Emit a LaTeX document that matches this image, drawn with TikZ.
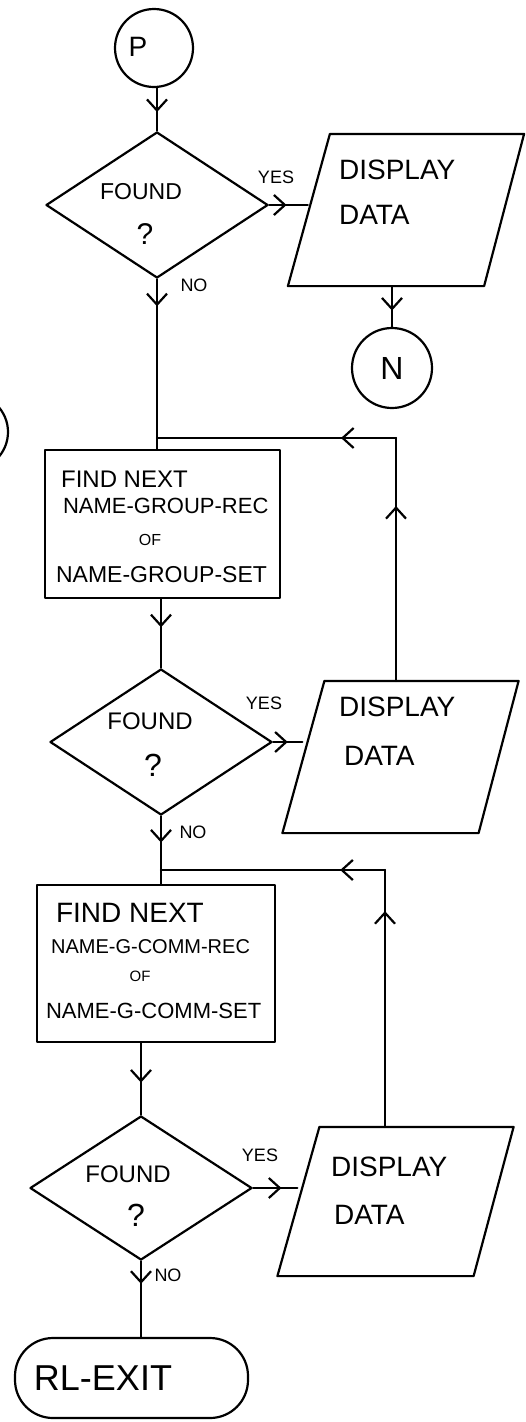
\documentclass[tikz,border=0pt]{standalone}
\usepackage{fontspec}
\setmainfont{Liberation Sans}
\usetikzlibrary{shapes.geometric,arrows.meta,decorations.markings,calc}

\tikzset{
  conn/.style={circle, draw, minimum size=#1, inner sep=0},
  decision/.style={diamond, draw, minimum width=222pt, minimum height=146pt, inner sep=0},
  % frame of a slanted input/output box; the outline is drawn from its corners
  io/.style={rectangle, minimum width=234pt, minimum height=#1, inner sep=0},
  process/.style={rectangle, draw, inner sep=0},
  term/.style={rectangle, draw, rounded corners=38pt, minimum width=233pt, minimum height=80pt, inner sep=0},
  midarrow/.style={postaction={decorate, decoration={markings,
      mark=at position #1 with {\arrow{Straight Barb[length=11pt,width=20pt]}}}}},
  fs/.style={font=\fontsize{#1}{#1}\selectfont, inner sep=0},
}

\begin{document}
\begin{tikzpicture}[x=1pt, y=-1pt, line width=2.2pt, line join=round, line cap=round]
\useasboundingbox (0,0) rectangle (526,1422);

% off-sheet connector, only its right edge shows
\begin{scope}
  \clip (0,0) rectangle (526,1422);
  \node[conn=76pt] (Q) at (-30,432) {};
\end{scope}

% ---------- first search ----------
\node[conn=78pt] (P) at (154,48) {};
\node[fs=28pt] (Pt) at (138,47) {P};

\node[decision] (D1) at (157,205) {};
\node[fs=23pt] (D1a) at (141,192) {FOUND};
\node[fs=30pt] (D1b) at (145,234) {?};

\node[io=150pt] (DD1) at (406,210) {};
\node[fs=28pt, anchor=west] (DD1a) at (338,170) {DISPLAY};
\node[fs=28pt, anchor=west] (DD1b) at (338,215) {DATA};

\node[conn=80pt, fs=32pt] (N) at (392,368) {N};

\node[fs=18pt] (Y1) at (276,177) {YES};
\node[fs=18pt] (N1) at (194,285) {NO};

% ---------- name-group loop ----------
\coordinate (J1) at (157,438);
\coordinate (K1) at (396,438);

\node[process, minimum width=235pt, minimum height=148pt] (B1) at (162.5,524) {};
\node[fs=24pt, anchor=west] (B1a) at (60,479) {FIND NEXT};
\node[fs=22pt, anchor=west] (B1b) at (62,506) {NAME-GROUP-REC};
\node[fs=16pt] (B1c) at (150,540) {OF};
\node[fs=23pt, anchor=west] (B1d) at (55,575) {NAME-GROUP-SET};

\node[decision] (D2) at (161,742) {};
\node[fs=24pt] (D2a) at (150,721) {FOUND};
\node[fs=32pt] (D2b) at (153,765) {?};

\node[io=150pt] (DD2) at (400.5,757) {};
\node[fs=28pt, anchor=west] (DD2a) at (338,707) {DISPLAY};
\node[fs=28pt, anchor=west] (DD2b) at (343,756) {DATA};

\node[fs=18pt] (Y2) at (264,703) {YES};
\node[fs=18pt] (N2) at (193,832) {NO};

% ---------- name-g-comm loop ----------
\coordinate (J2) at (161,870);
\coordinate (K2) at (385,870);

\node[process, minimum width=238pt, minimum height=157pt] (B2) at (156,963.5) {};
\node[fs=28pt, anchor=west] (B2a) at (55,913) {FIND NEXT};
\node[fs=20pt, anchor=west] (B2b) at (50,947) {NAME-G-COMM-REC};
\node[fs=15pt] (B2c) at (140,976) {OF};
\node[fs=22pt, anchor=west] (B2d) at (45,1011) {NAME-G-COMM-SET};

\node[decision, minimum height=144pt] (D3) at (141,1188) {};
\node[fs=24pt] (D3a) at (128,1174) {FOUND};
\node[fs=32pt] (D3b) at (136,1215) {?};

\node[io=147pt] (DD3) at (395.5,1201.5) {};
\node[fs=28pt, anchor=west] (DD3a) at (330,1167) {DISPLAY};
\node[fs=28pt, anchor=west] (DD3b) at (333,1215) {DATA};

\node[fs=18pt] (Y3) at (260,1155) {YES};
\node[fs=18pt] (N3) at (168,1275) {NO};

\node[term] (T) at (131.5,1378) {};
\node[fs=36pt] (Tt) at (103,1378) {RL-EXIT};

% slanted outlines of the display boxes
\foreach \b in {DD1,DD2,DD3}
  \draw ([xshift=42pt]\b.north west) -- (\b.north east)
        -- ([xshift=-40pt]\b.south east) -- (\b.south west) -- cycle;

% ---------- connectors ----------
\draw[midarrow=0.56] (D1.north |- P.south) -- (D1.north);
\draw[midarrow=0.45] (D1.east) -- ($(D1.east -| DD1.west)+(20,0)$);
\draw[midarrow=0.6] (N.north |- DD1.south) -- (N.north);
\draw[midarrow=0.16] (D1.south) -- (D1.south |- B1.north);
\draw[midarrow=0.72] (K1 |- DD2.north) -- (K1);
\draw[midarrow=0.23] (K1) -- (J1);

\draw[midarrow=0.41] (D2.north |- B1.south) -- (D2.north);
\draw[midarrow=0.5] (D2.east) -- ($(D2.east -| DD2.west)+(20,0)$);
\draw[midarrow=0.39] (D2.south) -- (D2.south |- B2.north);
\draw[midarrow=0.84] (K2 |- DD3.north) -- (K2);
\draw[midarrow=0.2] (K2) -- (J2);

\draw[midarrow=0.55] (D3.north |- B2.south) -- (D3.north);
\draw[midarrow=0.64] (D3.east) -- ($(D3.east -| DD3.west)+(20,0)$);
\draw[midarrow=0.3] (D3.south) -- (D3.south |- T.north);
\end{tikzpicture}
\end{document}
